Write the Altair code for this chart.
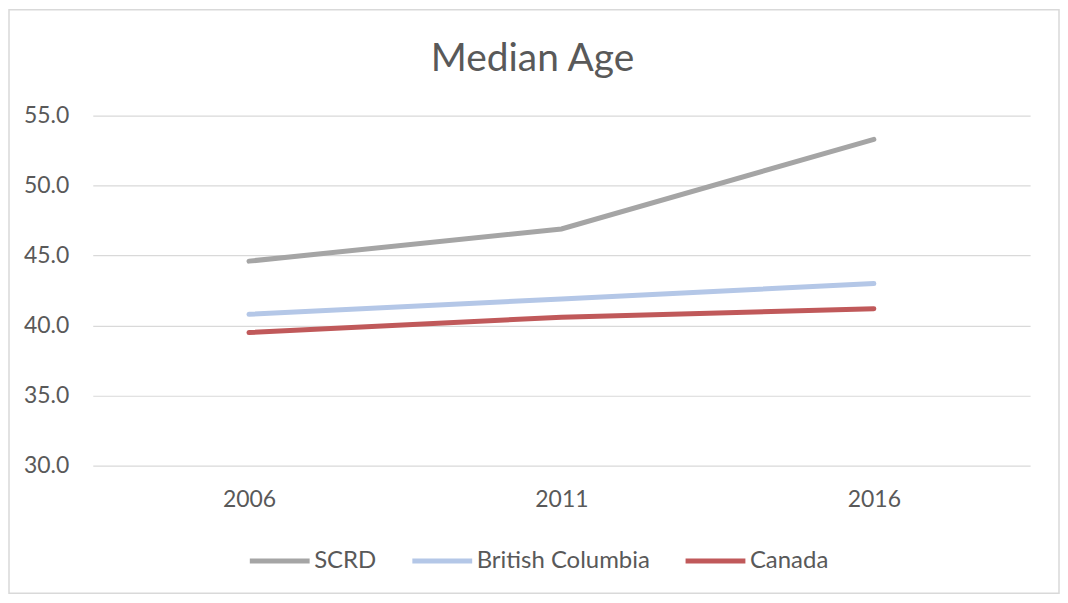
import altair as alt
import pandas as pd

years = ["2006", "2011", "2016"]
series = ["SCRD", "British Columbia", "Canada"]
scrd = [44.6, 46.9, 53.3]
bc = [40.8, 41.9, 43.0]
canada = [39.5, 40.6, 41.2]
colors = ["#a5a5a5", "#b4c7e7", "#c0595a"]
y_ticks = [30, 35, 40, 45, 50, 55]

rows = []
for name, vals in zip(series, [scrd, bc, canada]):
    for yr, v in zip(years, vals):
        rows.append({"Year": yr, "Series": name, "Age": v})
df = pd.DataFrame(rows)

FONT = "Lato"
GREY = "#595959"

lines = alt.Chart(df).mark_line(strokeWidth=5, strokeCap="round").encode(
    x=alt.X("Year:O", sort=years, title=None,
            scale=alt.Scale(padding=0.5),
            axis=alt.Axis(labelAngle=0, ticks=False, domain=False, grid=False,
                          labelFontSize=23, labelColor=GREY, labelFont=FONT,
                          labelPadding=23)),
    y=alt.Y("Age:Q", title=None,
            scale=alt.Scale(domain=[30, 55], nice=False, zero=False),
            axis=alt.Axis(values=y_ticks, format=".1f", ticks=False, domain=False,
                          gridColor="#d9d9d9", gridWidth=1.2,
                          labelFontSize=23, labelColor=GREY, labelFont=FONT,
                          labelPadding=24)),
    color=alt.Color("Series:N", sort=series,
                    scale=alt.Scale(domain=series, range=colors),
                    legend=alt.Legend(title=None, orient="none", direction="horizontal",
                                      legendX=155, legendY=414,
                                      symbolType="stroke", symbolStrokeWidth=5,
                                      symbolSize=3600, labelFontSize=24,
                                      labelColor=GREY, labelFont=FONT, labelLimit=0,
                                      labelOffset=2, columnPadding=25)),
)

border = alt.Chart(pd.DataFrame({"b": [0]})).mark_rect(
    fill="white", fillOpacity=0, stroke="#d9d9d9", strokeWidth=1.5
).encode(
    x=alt.value(-84), x2=alt.value(969), y=alt.value(-106), y2=alt.value(479)
)

chart = alt.layer(border, lines).properties(
    width=940,
    height=351,
    autosize=alt.AutoSizeParams(type="none"),
    padding={"left": 85, "top": 107, "right": 30, "bottom": 137},
    title=alt.TitleParams("Median Age", fontSize=39, font=FONT, color=GREY,
                          fontWeight="normal", anchor="middle", dx=-29, offset=-70),
).configure_view(stroke=None)

chart.save("out.html", embed_options={"renderer": "svg", "actions": False})
